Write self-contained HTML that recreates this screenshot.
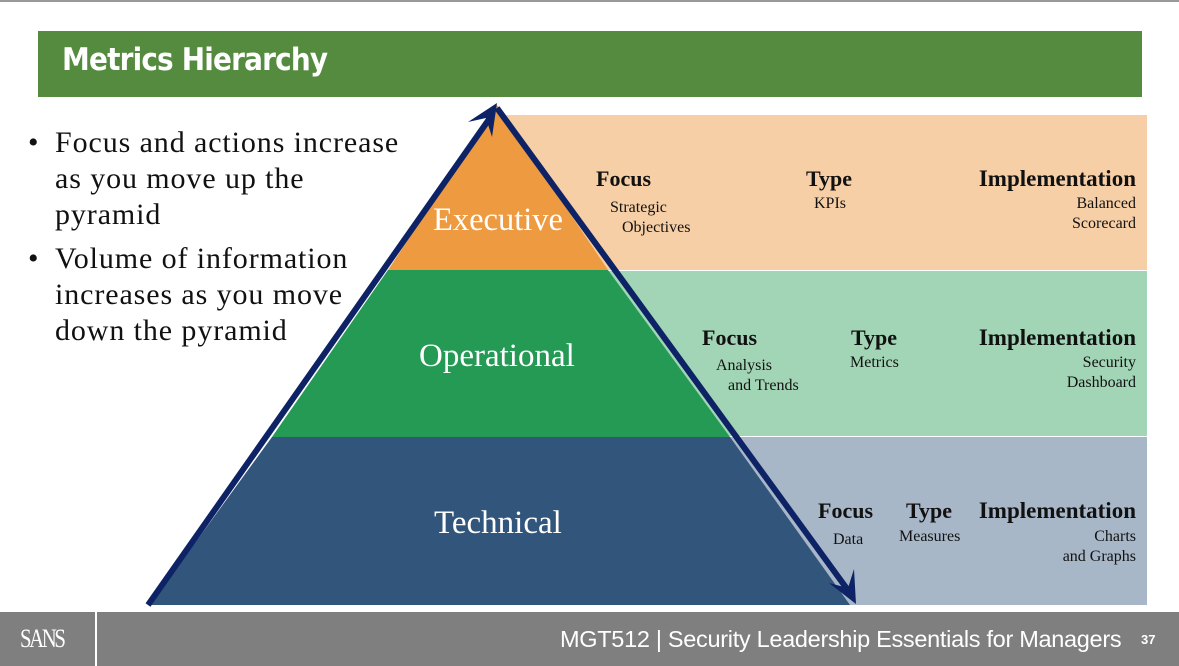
<!DOCTYPE html><html><head><style>
body{margin:0;width:1179px;height:666px;overflow:hidden;background:#fff;position:relative;font-family:"Liberation Serif",serif}
.a{position:absolute}
.b{position:relative;height:36px}
.b i{position:absolute;left:-27px;top:0;font-style:normal}
.b span{position:absolute;left:0;top:0;white-space:nowrap}
</style></head><body>
<div class="a" style="left:0;top:0;width:1179px;height:2px;background:#999"></div>
<div class="a" style="left:38px;top:31px;width:1104px;height:66px;background:#548b3f"></div>
<div class="a" style="left:62px;top:42px;color:#fff;font:bold 31px 'DejaVu Sans Condensed','Liberation Sans',sans-serif;letter-spacing:-0.8px">Metrics Hierarchy</div>
<div class="a" style="left:55px;top:125px;font-size:30px;line-height:36px;color:#111;letter-spacing:0.9px">
<div class="b"><i>•</i><span>Focus and actions increase<br>as you move up the<br>pyramid</span></div>
<div style="height:80px"></div>
<div class="b"><i>•</i><span>Volume of information<br>increases as you move<br>down the pyramid</span></div>
</div>
<svg class="a" style="left:0;top:0" width="1179" height="666">
<rect x="497" y="115" width="650" height="155" fill="#f7cfa6"/>
<rect x="497" y="271" width="650" height="165" fill="#a2d5b6"/>
<rect x="497" y="437" width="650" height="168" fill="#a8b7c8"/>
<polygon points="497,105 608,270 388,270" fill="#ee9a40"/>
<polygon points="388,270 608,270 730,437 272,437" fill="#259a55"/>
<polygon points="272,437 730,437 850,605 150,605" fill="#32557b"/>
<line x1="148" y1="605" x2="492" y2="115" stroke="#0d2366" stroke-width="6"/>
<polygon points="497,103 468,122 486,118 492,137" fill="#0d2366"/>
<line x1="497" y1="108" x2="850" y2="593" stroke="#0d2366" stroke-width="6"/>
<polygon points="856,604 854,569 848,588 829,583" fill="#0d2366"/>
<rect x="0" y="612" width="1179" height="54" fill="#7f7f7f"/>
<rect x="95" y="612" width="2" height="54" fill="#fff"/>
</svg>
<div class="a" style="left:433px;top:202px;color:#fff;font-size:32.5px">Executive</div>
<div class="a" style="left:419px;top:338px;color:#fff;font-size:33px">Operational</div>
<div class="a" style="left:434px;top:505px;color:#fff;font-size:33px">Technical</div>
<div class="a" style="font-size:16px;line-height:20px;color:#111">
<div class="a" style="left:596px;top:169px;font-weight:bold;font-size:22px">Focus</div>
<div class="a" style="left:610px;top:198px;white-space:nowrap">Strategic<br>&nbsp;&nbsp;&nbsp;Objectives</div>
<div class="a" style="left:806px;top:169px;font-weight:bold;font-size:22px">Type</div>
<div class="a" style="left:814px;top:194px">KPIs</div>
<div class="a" style="left:876px;top:169px;width:260px;text-align:right;font-weight:bold;font-size:23px">Implementation</div>
<div class="a" style="left:936px;top:194px;width:200px;text-align:right">Balanced<br>Scorecard</div>
<div class="a" style="left:702px;top:328px;font-weight:bold;font-size:22px">Focus</div>
<div class="a" style="left:716px;top:356px;white-space:nowrap">Analysis<br>&nbsp;&nbsp;&nbsp;and Trends</div>
<div class="a" style="left:851px;top:328px;font-weight:bold;font-size:22px">Type</div>
<div class="a" style="left:850px;top:353px">Metrics</div>
<div class="a" style="left:876px;top:328px;width:260px;text-align:right;font-weight:bold;font-size:23px">Implementation</div>
<div class="a" style="left:936px;top:353px;width:200px;text-align:right">Security<br>Dashboard</div>
<div class="a" style="left:818px;top:501px;font-weight:bold;font-size:22px">Focus</div>
<div class="a" style="left:833px;top:530px">Data</div>
<div class="a" style="left:906px;top:501px;font-weight:bold;font-size:22px">Type</div>
<div class="a" style="left:899px;top:527px">Measures</div>
<div class="a" style="left:876px;top:501px;width:260px;text-align:right;font-weight:bold;font-size:23px">Implementation</div>
<div class="a" style="left:936px;top:527px;width:200px;text-align:right">Charts<br>and Graphs</div>
</div>
<div class="a" style="left:20px;top:624px;color:#fff;font-size:26px;letter-spacing:-3px;transform:scaleX(0.8);transform-origin:left">SANS</div>
<div class="a" style="left:560px;top:626px;color:#fff;font:23.5px 'Liberation Sans',sans-serif;letter-spacing:-0.3px">MGT512 | Security Leadership Essentials for Managers</div>
<div class="a" style="left:1141px;top:632px;color:#fff;font:bold 13px 'Liberation Sans',sans-serif">37</div>
</body></html>
